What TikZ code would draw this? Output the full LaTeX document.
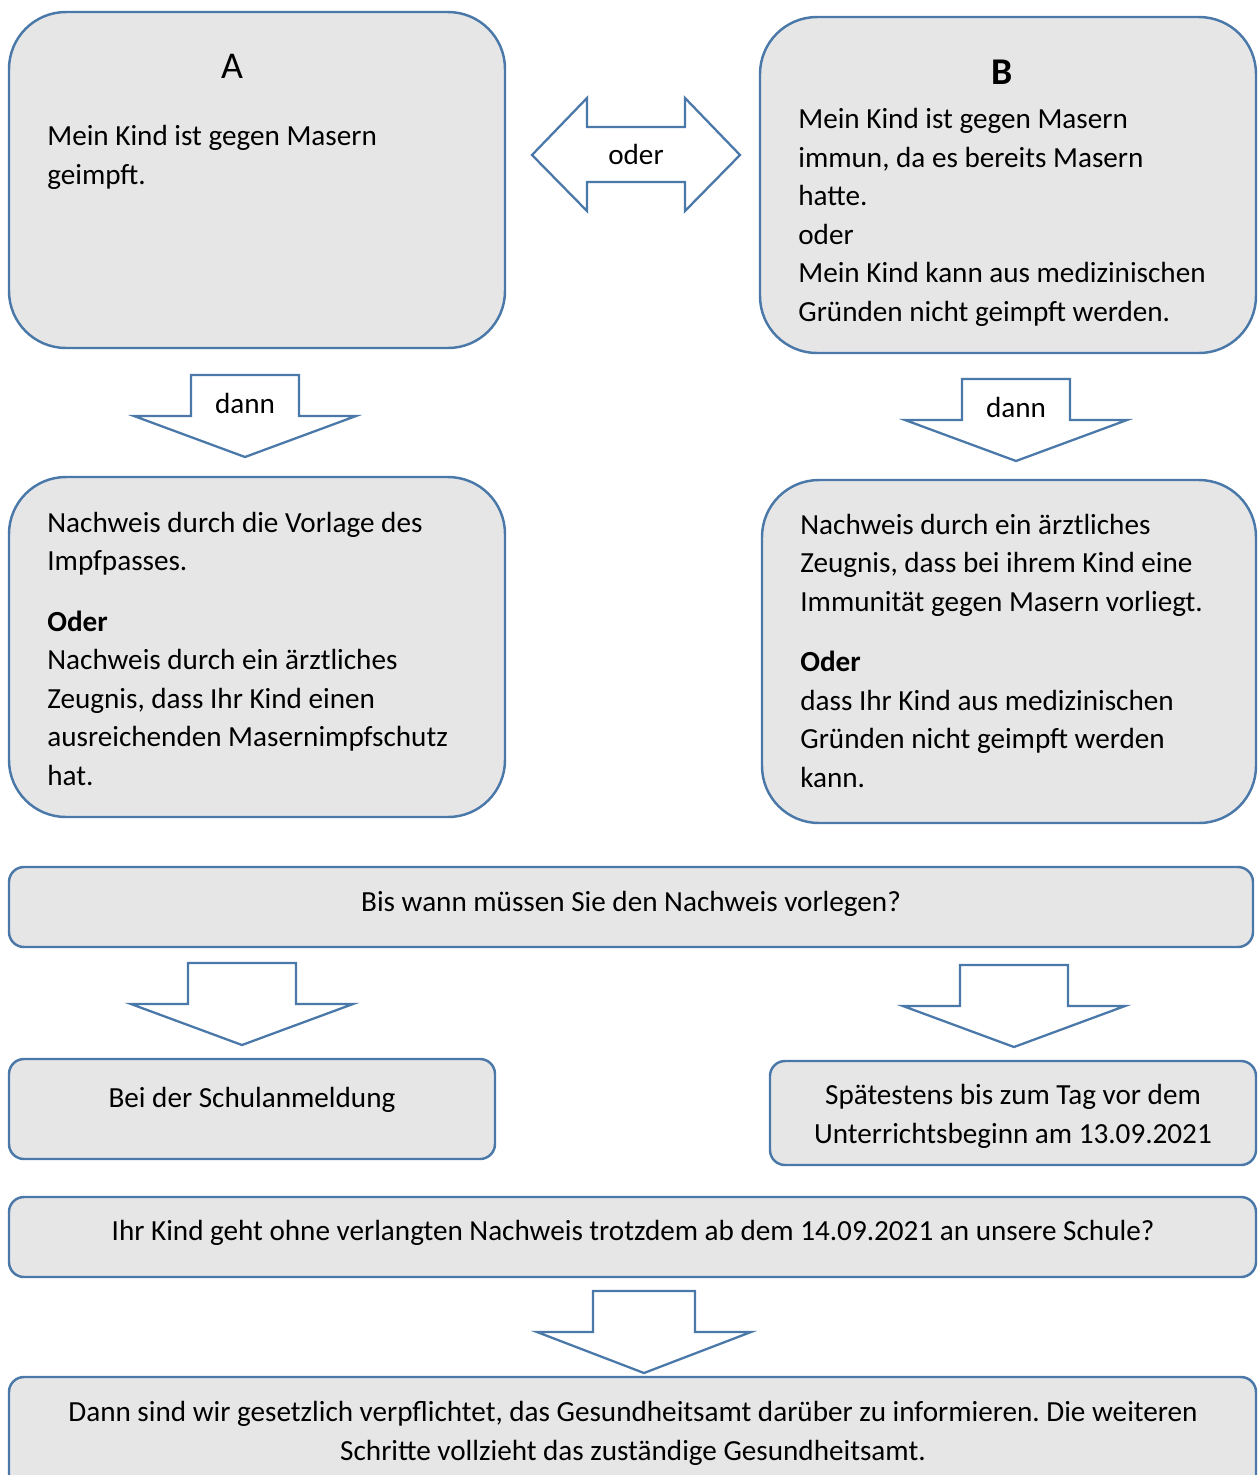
\documentclass[tikz,border=0pt]{standalone}
\usepackage{fontspec}
\setmainfont{Carlito}
\frenchspacing
\usetikzlibrary{fit,positioning}
\definecolor{RahmenBlau}{HTML}{4A78A8}
\definecolor{FeldGrau}{HTML}{E6E6E6}
\tikzset{
  feld/.style={draw=RahmenBlau, fill=FeldGrau, line width=1.4pt,
    rounded corners=#1, inner sep=0pt},
  feld/.default=0.3cm,
  blockpfeil/.style={draw=RahmenBlau, fill=white, line width=1.3pt},
  txt/.style={inner sep=0pt, anchor=base west, align=left,
    font=\fontsize{16.6pt}{21.9pt}\selectfont},
  mtxt/.style={inner sep=0pt, anchor=base, align=center,
    font=\fontsize{16.6pt}{21.9pt}\selectfont},
  titel/.style={inner sep=0pt, anchor=base, font=\fontsize{21.5pt}{26pt}\selectfont}
}
% Blockpfeil nach unten, #1 = Schaftbreite/2, #2 = Kopfbreite/2, #3 = Mitte, #4 = Oberkante
\newcommand{\pfeilrunter}[4][54]{%
  \draw[blockpfeil, shift={(#3,#4)}]
    (-#1,0) -- (#1,0) -- (#1,41) -- (#2,41) -- (0,82) -- (-#2,41) -- (-#1,41) -- cycle;}

\begin{document}
\begin{tikzpicture}[x=0.02cm, y=-0.02cm]
  \useasboundingbox (0,0) rectangle (1258,1475);
  \clip (0,0) rectangle (1258,1475);

  % obere Felder A und B (Textknoten sitzen auf der letzten Grundlinie)
  \node[feld=1.14cm, fit={(9,12) (505,348)}] (kindA) {};
  \node[feld=1.14cm, fit={(760,17) (1256,353)}] (kindB) {};
  \node[titel] (titelA) at (232,78) {A};
  \node[titel, font=\fontsize{21.5pt}{26pt}\selectfont\bfseries] (titelB) at (1002,84) {B};
  \node[txt] (textA) at (47,184) {Mein Kind ist gegen Masern\\geimpft.};
  \node[txt] (textB) at (798,321) {Mein Kind ist gegen Masern\\immun, da es bereits Masern\\hatte.\\oder\\Mein Kind kann aus medizinischen\\Gründen nicht geimpft werden.};

  % Doppelpfeil
  \draw[blockpfeil] (532,155) -- (587,98) -- (587,127) -- (685,127) -- (685,98)
    -- (740,155) -- (685,211) -- (685,182) -- (587,182) -- (587,211) -- cycle;
  \node[mtxt] (oder) at (636,164) {oder};

  % dann
  \pfeilrunter{111}{245}{375}
  \pfeilrunter{111}{1016}{379}
  \node[mtxt] (dannA) at (245,413) {dann};
  \node[mtxt] (dannB) at (1016,417) {dann};

  % Nachweis
  \node[feld=1.14cm, fit={(9,477) (505,817)}] (nachweisA) {};
  \node[feld=1.14cm, fit={(762,480) (1256,823)}] (nachweisB) {};
  \node[txt] (textNA) at (47,785) {Nachweis durch die Vorlage des\\Impfpasses.\\[12.5pt]
    \textbf{Oder}\\Nachweis durch ein ärztliches\\Zeugnis, dass Ihr Kind einen\\ausreichenden Masernimpfschutz\\hat.};
  \node[txt] (textNB) at (800,787) {Nachweis durch ein ärztliches\\Zeugnis, dass bei ihrem Kind eine\\Immunität gegen Masern vorliegt.\\[12.5pt]
    \textbf{Oder}\\dass Ihr Kind aus medizinischen\\Gründen nicht geimpft werden\\kann.};

  % Frist
  \node[feld, fit={(9,867) (1253,947)}] (frage) {};
  \node[mtxt] (frageText) at (631,911) {Bis wann müssen Sie den Nachweis vorlegen?};
  \pfeilrunter{111}{242}{963}
  \pfeilrunter{111}{1014}{965}
  \node[feld, fit={(9,1059) (495,1159)}] (anmeldung) {};
  \node[mtxt] (anmeldungText) at (252,1107) {Bei der Schulanmeldung};
  \node[feld, fit={(770,1061) (1256,1165)}] (spaetestens) {};
  \node[mtxt] (spaetestensText) at (1013,1143) {Spätestens bis zum Tag vor dem\\Unterrichtsbeginn am 13.09.2021};

  % ohne Nachweis
  \node[feld, fit={(9,1197) (1256,1277)}] (ohne) {};
  \node[mtxt] (ohneText) at (633,1240) {Ihr Kind geht ohne verlangten Nachweis trotzdem ab dem 14.09.2021 an unsere Schule?};
  \pfeilrunter[51]{107}{644}{1291}
  \node[feld, fit={(9,1377) (1256,1520)}] (amt) {};
  \node[mtxt] (amtText) at (633,1460) {Dann sind wir gesetzlich verpflichtet, das Gesundheitsamt darüber zu informieren. Die weiteren\\Schritte vollzieht das zuständige Gesundheitsamt.};
\end{tikzpicture}
\end{document}
